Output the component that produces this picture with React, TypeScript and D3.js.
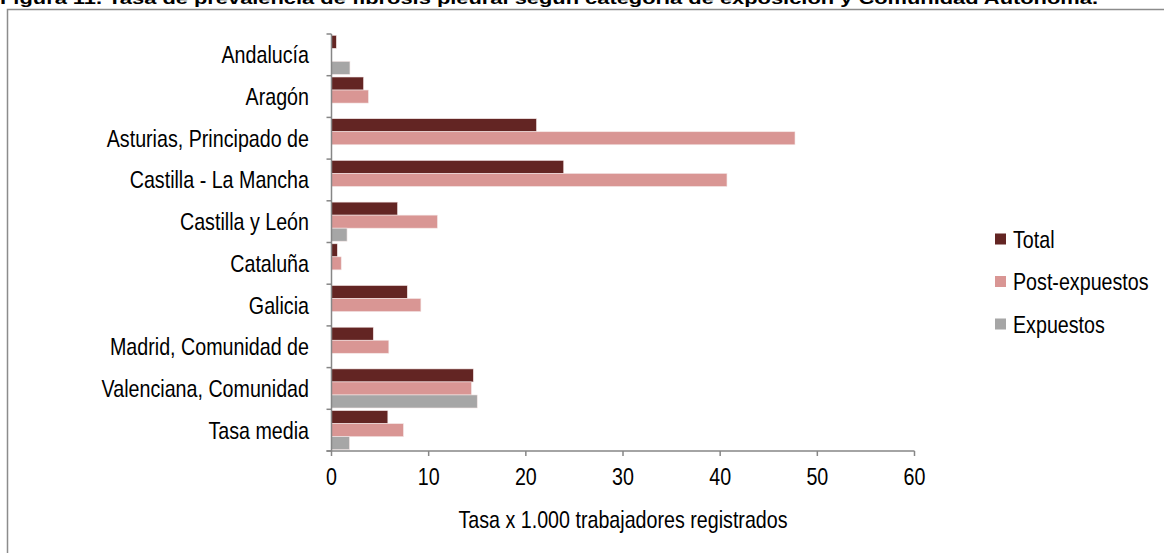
import React from "react";
import * as d3 from "d3";

const categories = [
  "Andalucía",
  "Aragón",
  "Asturias, Principado de",
  "Castilla - La Mancha",
  "Castilla y León",
  "Cataluña",
  "Galicia",
  "Madrid, Comunidad de",
  "Valenciana, Comunidad",
  "Tasa media",
];
const seriesNames = ["Total", "Post-expuestos", "Expuestos"];
const totalValues = [0.5, 3.3, 21.1, 23.9, 6.8, 0.6, 7.8, 4.3, 14.6, 5.8];
const postValues = [0, 3.8, 47.7, 40.7, 10.9, 1.0, 9.2, 5.9, 14.4, 7.4];
const expValues = [1.9, 0, 0, 0, 1.6, 0, 0, 0, 15.0, 1.85];
const xTicks = [0, 10, 20, 30, 40, 50, 60];
const colors = ["#632523", "#D99694", "#A6A6A6"];
const title =
  "Figura 11. Tasa de prevalencia de fibrosis pleural según categoría de exposición y Comunidad Autónoma.";
const xTitle = "Tasa x 1.000 trabajadores registrados";

const W = 1164;
const H = 553;
const left = 331.5;
const right = 914.5;
const top = 34;
const bottom = 451;
const font = "'Liberation Sans', Arial, sans-serif";
const axisColor = "#868686";
const narrow = 0.82;

function NText({ x, y, anchor = "start", children }: { x: number; y: number; anchor?: string; children: any }) {
  return (
    <text
      transform={`translate(${x},${y}) scale(${narrow},1)`}
      textAnchor={anchor}
      fontFamily={font}
      fontSize={24}
      fill="#000"
    >
      {children}
    </text>
  );
}

export default function App() {
  const x = d3.scaleLinear().domain([0, 60]).range([left, right]);
  const y = d3.scaleBand<string>().domain(categories).range([top, bottom]).paddingInner(0).paddingOuter(0);
  const sub = d3
    .scaleBand<string>()
    .domain(seriesNames)
    .range([0, y.bandwidth()])
    .paddingInner(0)
    .paddingOuter(0.1);
  const series = [totalValues, postValues, expValues];

  return (
    <div>
      <style>{`body{margin:0}`}</style>
      <svg width={W} height={H} style={{ display: "block", background: "#fff" }}>
        <text
          x={0}
          y={3.5}
          fontFamily="'Liberation Sans', Arial, sans-serif"
          fontWeight="bold"
          fontSize={17}
          fill="#000"
          textLength={1098}
          lengthAdjust="spacingAndGlyphs"
        >
          {title}
        </text>
        <rect x={7.5} y={9.5} width={1170} height={560} fill="#fff" stroke="#8c8c8c" strokeWidth={1.5} />

        {categories.map((c, i) =>
          series.map((vals, s) =>
            vals[i] > 0 ? (
              <rect
                key={c + s}
                x={x(0)}
                y={(y(c) as number) + (sub(seriesNames[s]) as number)}
                width={x(vals[i]) - x(0)}
                height={sub.bandwidth()}
                fill={colors[s]}
                stroke="#f4e6e6"
                strokeWidth={0.6}
              />
            ) : null
          )
        )}

        {/* y axis */}
        <line x1={left} x2={left} y1={top} y2={bottom} stroke={axisColor} strokeWidth={1.5} />
        {d3.range(categories.length + 1).map((i) => {
          const yy = top + i * y.step();
          return <line key={"yt" + i} x1={left - 5} x2={left} y1={yy} y2={yy} stroke={axisColor} strokeWidth={1.5} />;
        })}
        {categories.map((c) => (
          <NText key={"yl" + c} x={309} y={(y(c) as number) + y.bandwidth() / 2 + 8.5} anchor="end">
            {c}
          </NText>
        ))}

        {/* x axis */}
        <line x1={left - 5} x2={right} y1={bottom} y2={bottom} stroke={axisColor} strokeWidth={1.5} />
        {xTicks.map((t) => (
          <g key={"xt" + t}>
            <line x1={x(t)} x2={x(t)} y1={bottom} y2={bottom + 5} stroke={axisColor} strokeWidth={1.5} />
            <NText x={x(t)} y={485} anchor="middle">
              {t}
            </NText>
          </g>
        ))}
        <NText x={(left + right) / 2} y={528} anchor="middle">
          {xTitle}
        </NText>

        {/* legend */}
        {seriesNames.map((n, i) => (
          <g key={"lg" + n}>
            <rect x={995} y={239 + i * 42.5 - 5.5} width={11} height={11} fill={colors[i]} />
            <NText x={1013} y={239 + i * 42.5 + 8.5}>
              {n}
            </NText>
          </g>
        ))}
      </svg>
    </div>
  );
}
